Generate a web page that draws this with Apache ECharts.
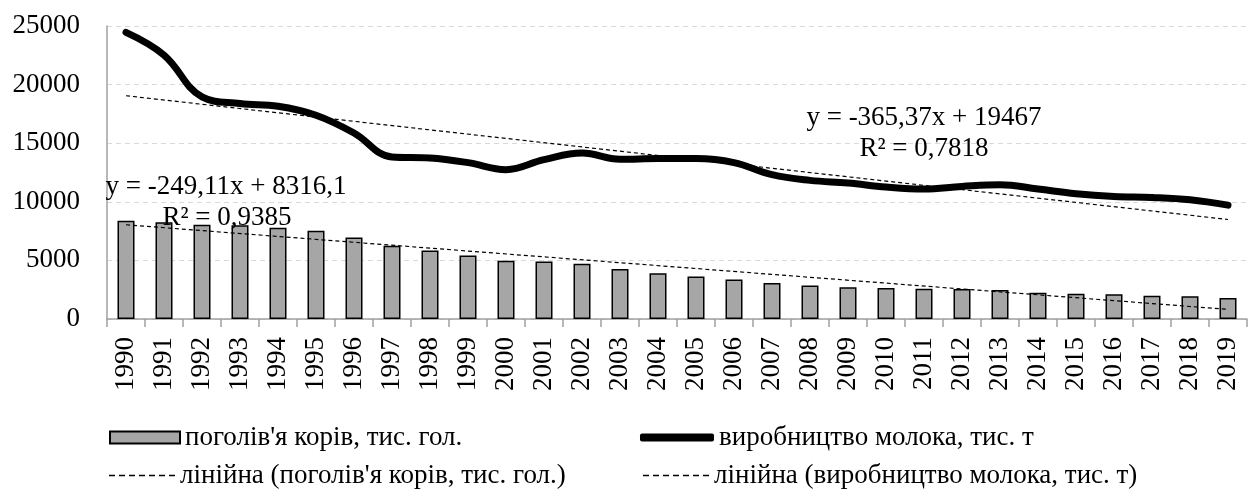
<!DOCTYPE html>
<html lang="uk">
<head>
    <meta charset="UTF-8">
    <title>Поголів'я корів і виробництво молока</title>
    <script src="https://cdn.jsdelivr.net/npm/echarts@6/dist/echarts.min.js"></script>
    <style>
        html, body { margin: 0; padding: 0; background: #fff; }
        #chartmain { width: 1250px; height: 497px; }
    </style>
</head>
<body>
<div id="chartmain"></div>
<script type="text/javascript">
    // роки (підписи осі X)
    var years = ['1990', '1991', '1992', '1993', '1994', '1995', '1996', '1997', '1998', '1999',
        '2000', '2001', '2002', '2003', '2004', '2005', '2006', '2007', '2008', '2009',
        '2010', '2011', '2012', '2013', '2014', '2015', '2016', '2017', '2018', '2019'];

    // поголів'я корів, тис. гол.
    var cows = [8378, 8263, 8040, 8000, 7783, 7526, 6953, 6243, 5842, 5414,
        4960, 4900, 4704, 4276, 3900, 3618, 3361, 3079, 2848, 2703,
        2651, 2591, 2565, 2480, 2250, 2164, 2104, 1993, 1933, 1796];

    // виробництво молока, тис. т
    var milk = [24461, 22520, 18953, 18388, 18158, 17388, 15874, 13822, 13736, 13342,
        12743, 13598, 14163, 13627, 13684, 13684, 13342, 12316, 11829, 11600,
        11258, 11087, 11315, 11458, 11087, 10690, 10460, 10375, 10177, 9716];

    // лінії тренду: значення на початку та в кінці періоду
    var cowsTrend = [8040, 820];
    var milkTrend = [19050, 8490];

    // підписи рівнянь тренду
    var cowsEq = ['y = -249,11x + 8316,1', 'R² = 0,9385'];
    var milkEq = ['y = -365,37x + 19467', 'R² = 0,7818'];

    var yTicks = [0, 5000, 10000, 15000, 20000, 25000];

    var FONT = '"Liberation Serif", "DejaVu Serif", serif';
    var FS = 27;
    var names = ["поголів'я корів, тис. гол.", 'виробництво молока, тис. т',
        "лінійна (поголів'я корів, тис. гол.)", 'лінійна (виробництво молока, тис. т)'];

    // значок пунктиру для легенди
    var dashIcon = 'path://M0,0h6v1.4h-6z M10,0h6v1.4h-6z M20,0h6v1.4h-6z M30,0h6v1.4h-6z ' +
        'M40,0h6v1.4h-6z M50,0h6v1.4h-6z M60,0h6v1.4h-6z';

    function trendData(v) {
        return [[years[0], v[0]], [years[years.length - 1], v[1]]];
    }

    function legendAt(name, left, top, icon, w, h) {
        return {
            data: [name],
            left: left,
            top: top,
            padding: 0,
            icon: icon,
            itemWidth: w,
            itemHeight: h,
            itemGap: 6,
            textStyle: { fontFamily: FONT, fontSize: FS, color: '#000' },
            selectedMode: false
        };
    }

    var myChart = echarts.init(document.getElementById('chartmain'));
    myChart.setOption({
        animation: false,
        backgroundColor: '#fff',
        grid: { left: 107, right: 3, top: 26, bottom: 178 },
        legend: [
            legendAt(names[0], 109, 424, 'rect', 70, 12),
            legendAt(names[1], 640, 424, 'roundRect', 74, 8),
            legendAt(names[2], 109, 462, dashIcon, 66, 1.4),
            legendAt(names[3], 643, 462, dashIcon, 66, 1.4)
        ],
        xAxis: {
            type: 'category',
            data: years,
            boundaryGap: true,
            axisLine: { lineStyle: { color: '#a0a0a0', width: 1.5 } },
            axisTick: { show: true, length: 8, lineStyle: { color: '#a0a0a0', width: 1.5 } },
            axisLabel: {
                rotate: 90, margin: 18, interval: 0,
                fontFamily: FONT, fontSize: FS, color: '#000'
            }
        },
        yAxis: {
            type: 'value',
            min: yTicks[0],
            max: yTicks[yTicks.length - 1],
            interval: yTicks[1] - yTicks[0],
            axisLine: { show: true, lineStyle: { color: '#a0a0a0', width: 1.5 } },
            axisTick: { show: false },
            axisLabel: {
                margin: 27, fontFamily: FONT, fontSize: FS, color: '#000',
                formatter: function (v) { return String(v); }
            },
            splitLine: { lineStyle: { color: '#d9d9d9', type: [5, 4], width: 1 } }
        },
        series: [
            {
                name: names[0],
                type: 'bar',
                data: cows,
                barWidth: 17,
                itemStyle: { color: '#a6a6a6', borderColor: '#000', borderWidth: 1.5 },
                z: 2
            },
            {
                name: names[1],
                type: 'line',
                data: milk,
                smooth: 0.4,
                symbol: 'none',
                lineStyle: { color: '#000', width: 7, cap: 'round', join: 'round' },
                itemStyle: { color: '#000' },
                z: 3
            },
            {
                name: names[2],
                type: 'line',
                data: trendData(cowsTrend),
                symbol: 'none',
                lineStyle: { color: '#000', width: 1.2, type: [4, 3] },
                itemStyle: { color: '#000' },
                z: 4
            },
            {
                name: names[3],
                type: 'line',
                data: trendData(milkTrend),
                symbol: 'none',
                lineStyle: { color: '#000', width: 1.2, type: [4, 3] },
                itemStyle: { color: '#000' },
                z: 4
            }
        ],
        graphic: [
            { type: 'text', x: 226, y: 187, z: 10, style: { text: cowsEq[0], font: FS + 'px ' + FONT, fill: '#000', align: 'center', verticalAlign: 'middle' } },
            { type: 'text', x: 227, y: 218, z: 10, style: { text: cowsEq[1], font: FS + 'px ' + FONT, fill: '#000', align: 'center', verticalAlign: 'middle' } },
            { type: 'text', x: 924, y: 118, z: 10, style: { text: milkEq[0], font: FS + 'px ' + FONT, fill: '#000', align: 'center', verticalAlign: 'middle' } },
            { type: 'text', x: 924, y: 149, z: 10, style: { text: milkEq[1], font: FS + 'px ' + FONT, fill: '#000', align: 'center', verticalAlign: 'middle' } }
        ]
    });
</script>
</body>
</html>
